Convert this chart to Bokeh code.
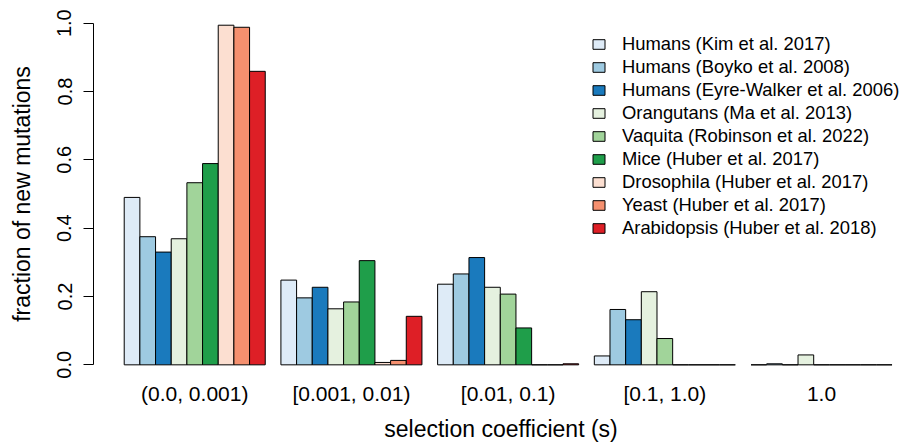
from bokeh.plotting import figure
from bokeh.models import Range1d, FixedTicker, Legend, LegendItem
from bokeh.embed import file_html
from bokeh.resources import INLINE

# ---- data ----
groups = ["(0.0, 0.001)", "[0.001, 0.01)", "[0.01, 0.1)", "[0.1, 1.0)", "1.0"]
series_names = [
    "Humans (Kim et al. 2017)",
    "Humans (Boyko et al. 2008)",
    "Humans (Eyre-Walker et al. 2006)",
    "Orangutans (Ma et al. 2013)",
    "Vaquita (Robinson et al. 2022)",
    "Mice (Huber et al. 2017)",
    "Drosophila (Huber et al. 2017)",
    "Yeast (Huber et al. 2017)",
    "Arabidopsis (Huber et al. 2018)",
]
humans_kim = [0.490, 0.248, 0.236, 0.026, 0.000]
humans_boyko = [0.375, 0.196, 0.266, 0.162, 0.003]
humans_eyre_walker = [0.330, 0.227, 0.314, 0.132, 0.000]
orangutans = [0.369, 0.164, 0.227, 0.214, 0.029]
vaquita = [0.533, 0.184, 0.207, 0.077, 0.000]
mice = [0.589, 0.305, 0.108, 0.000, 0.000]
drosophila = [0.994, 0.007, 0.000, 0.000, 0.000]
yeast = [0.988, 0.013, 0.000, 0.000, 0.000]
arabidopsis = [0.859, 0.142, 0.003, 0.000, 0.000]
series_values = [humans_kim, humans_boyko, humans_eyre_walker, orangutans,
                 vaquita, mice, drosophila, yeast, arabidopsis]
colors = ["#deebf7", "#9ecae1", "#1a7abd", "#e5f1df", "#a1d49a",
          "#1f9e4a", "#fcdfd1", "#f5906f", "#de1f26"]
y_ticks = [0.0, 0.2, 0.4, 0.6, 0.8, 1.0]

n_series = len(series_values)
group_width = n_series + 1  # one bar-width gap before each group

FONT = "Liberation Sans"

p = figure(width=908, height=444, output_backend="svg", toolbar_location=None,
           x_range=Range1d(-0.96, 51.05), y_range=Range1d(-0.04, 1.04),
           min_border_left=93, min_border_right=0, min_border_top=9,
           min_border_bottom=62)
p.outline_line_color = None
p.xgrid.visible = False
p.ygrid.visible = False
p.background_fill_color = "white"
p.border_fill_color = "white"

items = []
for s, (vals, col, name) in enumerate(zip(series_values, colors, series_names)):
    xs = [g * group_width + 1 + s + 0.5 for g in range(len(groups))]
    r = p.vbar(x=xs, top=vals, bottom=0, width=1.0, fill_color=col,
               line_color="black", line_width=1)
    items.append(LegendItem(label=name, renderers=[r]))

# y axis
ya = p.yaxis[0]
ya.ticker = FixedTicker(ticks=y_ticks)
ya.major_label_overrides = {t: f"{t:.1f}" for t in y_ticks}
ya.bounds = (0, 1)
ya.major_tick_out = 10
ya.major_tick_in = 0
ya.minor_tick_line_color = None
ya.axis_line_color = "black"
ya.major_tick_line_color = "black"
ya.major_label_orientation = "vertical"
ya.major_label_text_font = FONT
ya.major_label_text_font_size = "20px"
ya.major_label_text_line_height = 1.0
ya.major_label_text_color = "black"
ya.major_label_standoff = 12
ya.axis_label = "fraction of new mutations"
ya.axis_label_text_font = FONT
ya.axis_label_text_font_size = "23px"
ya.axis_label_text_line_height = 1.0
ya.axis_label_text_font_style = "normal"
ya.axis_label_text_color = "black"
ya.axis_label_standoff = 20

# x axis
group_centers = [g * group_width + 1 + n_series / 2 for g in range(len(groups))]
xa = p.xaxis[0]
xa.ticker = FixedTicker(ticks=group_centers)
xa.major_label_overrides = {c: lab for c, lab in zip(group_centers, groups)}
xa.axis_line_color = None
xa.major_tick_line_color = None
xa.minor_tick_line_color = None
xa.major_tick_out = 0
xa.major_tick_in = 0
xa.major_label_standoff = 3
xa.major_label_text_font = FONT
xa.major_label_text_font_size = "21px"
xa.major_label_text_line_height = 1.0
xa.major_label_text_color = "black"
xa.axis_label = "selection coefficient (s)"
xa.axis_label_text_font = FONT
xa.axis_label_text_font_size = "23px"
xa.axis_label_text_line_height = 1.0
xa.axis_label_text_font_style = "normal"
xa.axis_label_text_color = "black"
xa.axis_label_standoff = 8

legend = Legend(items=items, location=(498, 139), glyph_width=15, glyph_height=12,
                label_text_font=FONT, label_text_font_size="18.4px",
                label_text_line_height=1.0,
                label_text_color="black", label_height=22, spacing=1,
                padding=0, margin=0, label_standoff=16,
                border_line_color=None, background_fill_alpha=0)
p.add_layout(legend)

open("out.html", "w").write(file_html(p, INLINE))
